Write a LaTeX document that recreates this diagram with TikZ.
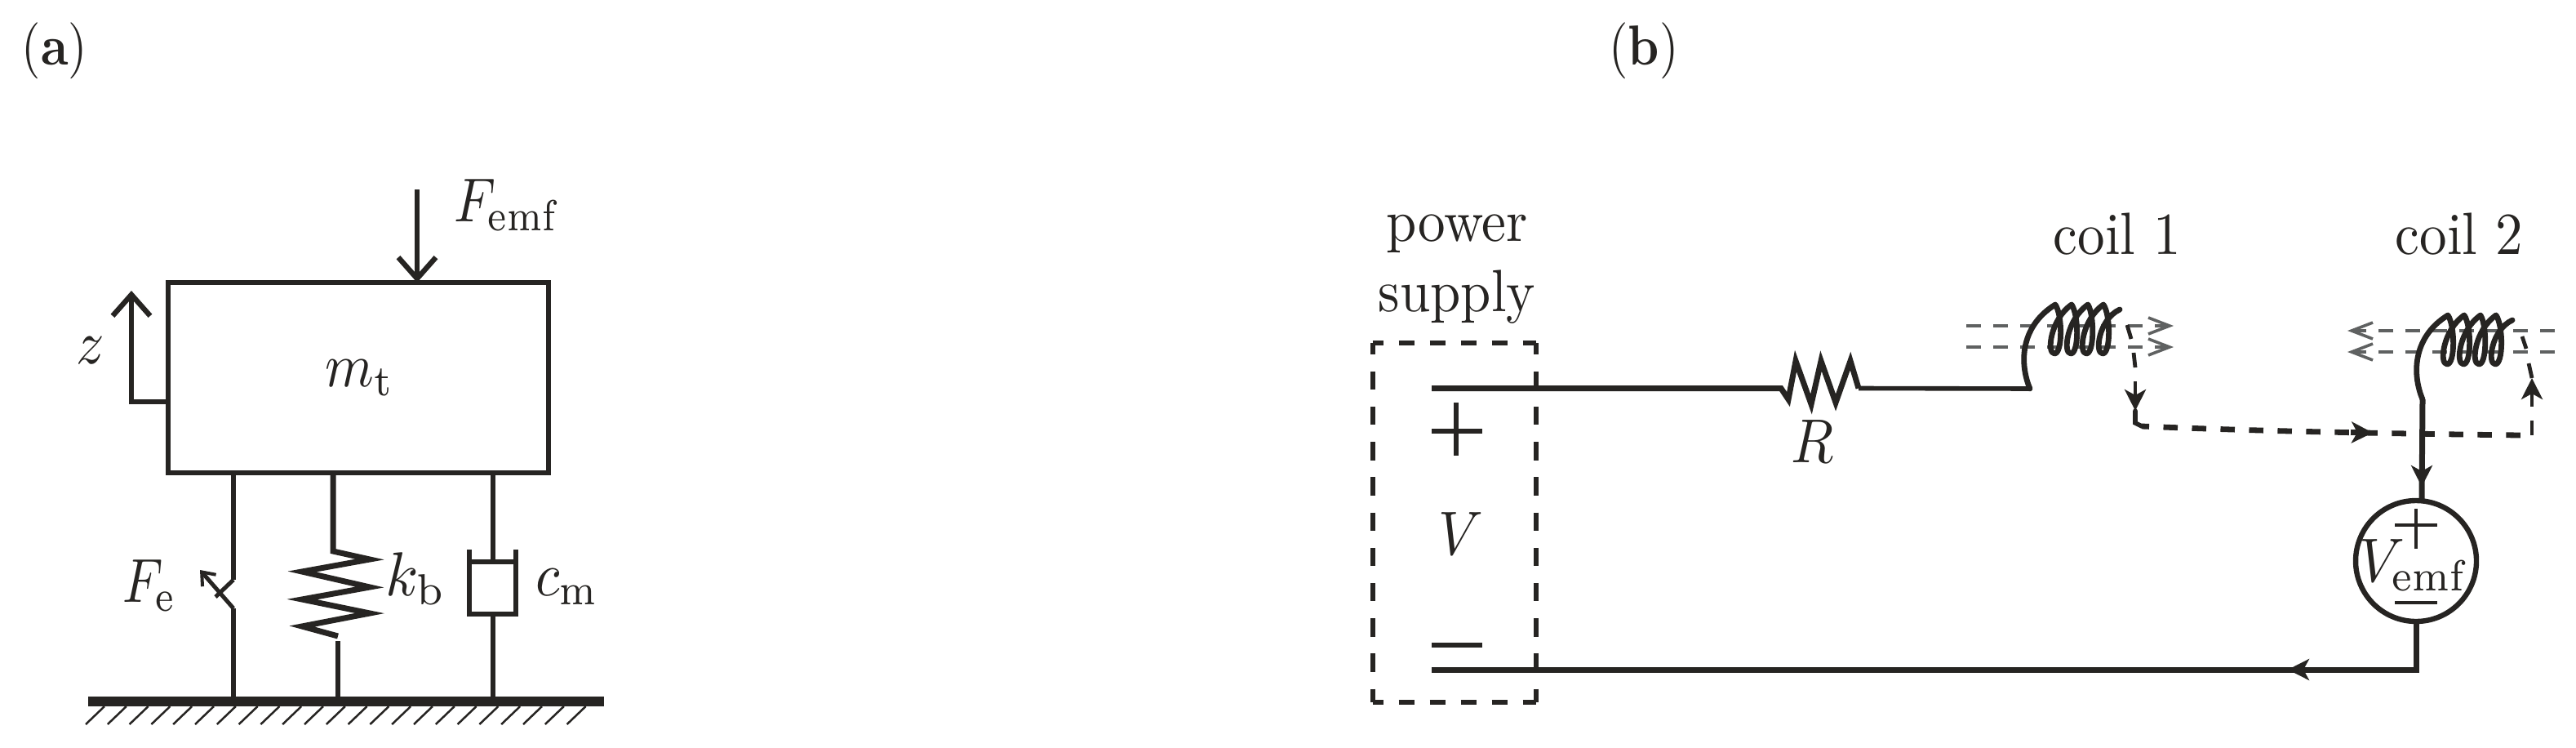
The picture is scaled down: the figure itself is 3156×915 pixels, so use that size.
\documentclass[tikz,border=0pt]{standalone}
\usetikzlibrary{arrows.meta}
\definecolor{ink}{HTML}{262422}
\definecolor{fluxgrey}{HTML}{5F6161}
\tikzset{
  lbl/.style={inner sep=0pt,outer sep=0pt,xscale=3.35,yscale=3.65,text=ink},
  mathlbl/.style={inner sep=0pt,outer sep=0pt,xscale=3.4,yscale=3.8,text=ink},
  panel/.style={inner sep=0pt,outer sep=0pt,xscale=3,yscale=3.45,text=ink,anchor=base},
  wire/.style={draw=ink,line width=3.5pt,line join=miter},
  after r/.style={draw=ink,line width=2.8pt,line join=miter},
  coil wire/.style={draw=ink,line width=3.4pt,line join=round,line cap=round},
  sym/.style={draw=ink,line width=3.2pt},
  thin sym/.style={draw=ink,line width=2pt},
  barb/.style={-{Straight Barb[length=13pt,width=23pt,line width=3.2pt]}},
  small barb/.style={-{Straight Barb[length=7pt,width=11pt,line width=2pt]}},
  solid head/.style={-{Stealth[length=13pt,width=13pt,inset=3.5pt]}},
  flux/.style={draw=fluxgrey,line width=1.8pt,dash pattern=on 9pt off 7.5pt,
     -{Straight Barb[length=13pt,width=10pt,line width=1.8pt,fluxgrey]}},
  induced/.style={draw=ink,line width=2.4pt},
  induced run/.style={draw=ink,line width=3.4pt,dash pattern=on 8.75pt off 8.75pt,dash phase=4.25pt},
  coilshape/.pic={
    \coordinate (-in) at (0,0);
    \draw[coil wire] (0,0) .. controls (-12,-28) and (-14,-75) .. (31,-103)
      \foreach \p in {31,51,70}{
        .. controls (\p+9,-90) and (\p+9,-43) .. (\p-1,-43)
        .. controls (\p-11,-43) and (\p-6,-85) .. (\p+20,-103)}
      .. controls (99,-90) and (99,-43) .. (89,-43)
      .. controls (79,-43) and (84,-85) .. (110,-97);
  },
  hatch/.style={draw=ink,line width=1.25pt},
}
\begin{document}
\begin{tikzpicture}[x=0.5pt,y=-0.5pt]
\useasboundingbox (0,0) rectangle (3156,915);

% panel labels
\node[panel] (la) at (67,80) {(\textbf{a})};
\node[panel] (lb) at (2014,80) {(\textbf{b})};

% ---------- panel (a)
\node[draw=ink,line width=3.2pt,minimum width=233pt,minimum height=116.5pt,inner sep=0pt,outer sep=0pt] (mass) at (439,462.5) {};
\node[mathlbl,anchor=base] (mt) at (441,473) {$m_{\mathrm{t}}$};

\coordinate (gndL) at (108,859);
\coordinate (gndR) at (740,859);
\draw[draw=ink,line width=6pt] (gndL) -- (gndR);
\foreach \i in {0,...,22}{
  \draw[hatch] ({105+26.8*\i},887) -- ({128+26.8*\i},865);
}

% applied force
\coordinate (fTop) at (511,232);
\draw[sym,barb] (fTop) -- (mass.north -| fTop);
\node[mathlbl,anchor=base west,xscale=0.96] (femf) at (556,271) {$F_{\mathrm{emf}}$};

% displacement
\coordinate (zCorner) at (161,492);
\coordinate (zTip) at (161,356);
\draw[sym,barb] (mass.west |- zCorner) -- (zCorner) -- (zTip);
\node[mathlbl,anchor=base] (zl) at (111,445) {$z$};

% electrostatic element
\coordinate (feGnd) at (286,859);
\coordinate (feA) at (286,710);
\coordinate (feB) at (264,731);
\coordinate (feC) at (286,745);
\coordinate (feT) at (245,698);
\draw[sym] (mass.south -| feGnd) -- (feA);
\draw[sym,line width=2.5pt] (feA) -- (feB);
\draw[sym,line width=2.5pt,small barb] (feC) -- (feT);
\draw[sym] (feC) -- (feGnd);
\node[mathlbl,anchor=base west,xscale=0.93] (fe) at (150,737) {$F_{\mathrm{e}}$};

% spring
\coordinate (spTop) at (408,675);
\coordinate (spBot) at (414,785);
\coordinate (spGnd) at (414,859);
\draw[sym,line width=3.5pt] (mass.south -| spTop) -- (spTop) -- (453,685) -- (370,700) -- (453,719) -- (370,734) -- (453,751) -- (370,767) -- (414,779);
\draw[sym] (spBot) -- (spGnd);
\node[mathlbl,anchor=base west,xscale=1.08] (kb) at (472,729) {$k_{\mathrm{b}}$};

% damper
\coordinate (dTop) at (604,688);
\coordinate (dBot) at (604,752);
\coordinate (dGnd) at (604,859);
\draw[sym] (mass.south -| dTop) -- (dTop);
\draw[sym] (575,673) -- (575,752) -- (632,752) -- (632,673);
\draw[sym] (575,688) -- (632,688);
\draw[sym] (dBot) -- (dGnd);
\node[mathlbl,anchor=base west] (cm) at (656,729) {$c_{\mathrm{m}}$};

% ---------- panel (b)
% supply box
\coordinate (bTL) at (1681.5,420);
\coordinate (bTR) at (1882,420);
\coordinate (bBL) at (1681.5,860);
\coordinate (bBR) at (1882,860);
\begin{scope}[draw=ink,line width=3pt]
\draw[dash pattern=on 9.5pt off 9.5pt,dash phase=3pt] (bTL) -- (bTR);
\draw[dash pattern=on 9.5pt off 9.5pt,dash phase=3pt] (bBL) -- (bBR);
\draw[dash pattern=on 11.2pt off 10.4pt,dash phase=4.2pt] (bTL) -- (bBL);
\draw[dash pattern=on 11.2pt off 10.4pt,dash phase=4.2pt] (bTR) -- (bBR);
\end{scope}

\node[lbl,anchor=base] (pw) at (1785,295) {power};
\node[lbl,anchor=base] (sp) at (1785,381) {supply};
\node[mathlbl,anchor=base] (vv) at (1790,679) {$V$};
\draw[sym] (1754,528) -- (1816,528);
\draw[sym] (1784,493) -- (1784,558);
\draw[sym] (1754,790) -- (1816,790);

% top wire and resistor
\coordinate (pPlus) at (1754,475.5);
\coordinate (rIn) at (2182,475.5);
\coordinate (rOut) at (2277,475.5);
\coordinate (c1In) at (2487,476);
\draw[wire] (pPlus) -- (rIn) -- (2191,489) -- (2200,442) -- (2219,495) -- (2231,442) -- (2249,493) -- (2267,442) -- (rOut);
\draw[after r] (rOut) -- (c1In);
\node[mathlbl,anchor=base] (rl) at (2221,566) {$R$};

% flux lines
\coordinate (f1a) at (2409,399); \coordinate (f1b) at (2663,399);
\coordinate (f2a) at (2409,425); \coordinate (f2b) at (2663,425);
\coordinate (f3a) at (3130,405); \coordinate (f3b) at (2876,405);
\coordinate (f4a) at (3130,431); \coordinate (f4b) at (2876,431);
\draw[flux] (f1a) -- (f1b);
\draw[flux] (f2a) -- (f2b);
\draw[flux] (f3a) -- (f3b);
\draw[flux] (f4a) -- (f4b);

% coils
\pic (coilA) at (c1In) {coilshape};
\coordinate (c2In) at (2968,489);
\pic (coilB) at (c2In) {coilshape};
\node[lbl,anchor=base] (c1l) at (2594,311) {coil 1};
\node[lbl,anchor=base] (c2l) at (3013,311) {coil 2};

% induced voltage source
\node[circle,draw=ink,line width=3.2pt,minimum size=74pt,inner sep=0pt,outer sep=0pt,fill=white] (vs) at (2960,687) {};
\node[mathlbl,anchor=base,xscale=1.02] (vl) at (2958,712) {$V_{\mathrm{emf}}$};
\draw[thin sym] (2934,643) -- (2986,643);
\draw[thin sym] (2960,623) -- (2960,672);
\draw[thin sym] (2934,738) -- (2986,738);

% wire to source
\coordinate (vTop) at (2967,612);
\draw[wire] (c2In) -- (vTop);
\coordinate (ahA) at (2967,570);
\coordinate (ahB) at (2967,596);
\draw[wire,solid head] (ahA) -- (ahB);

% return wire
\coordinate (retC) at (2960,820);
\coordinate (pMinus) at (1754,820);
\coordinate (rhA) at (2830,820);
\coordinate (rhB) at (2803,820);
\draw[wire] (vs.south) -- (retC) -- (pMinus);
\draw[wire,solid head] (rhA) -- (rhB);

% induced path
\draw[induced,line cap=butt] (2606,398) -- (2611,415);
\draw[induced] (2614,432) -- (2616,450);
\coordinate (iA) at (2616,467);
\coordinate (iB) at (2616,503);
\coordinate (iC) at (2616,518);
\coordinate (iD) at (2624,522);
\coordinate (iE) at (3088,533);
\coordinate (iF) at (3102,533);
\coordinate (iG) at (3102,515);
\coordinate (iH) at (3102,498);
\coordinate (iI) at (3102,463);
\coordinate (iJ) at (3098,445);
\draw[induced,solid head] (iA) -- (iB);
\draw[induced,line width=2.8pt,line cap=round] (iB) -- (iC) -- (iD);
\draw[induced run] (iD) .. controls (2720,526) and (2846,530) .. (iE);
\draw[draw=ink,solid head,line width=3.4pt] (2880,529.5) -- (2907,530);
\draw[induced] (iF) -- (iG);
\draw[induced,solid head] (iH) -- (iI);
\draw[induced] (iI) -- (iJ);
\draw[induced] (3095,427) -- (3090,412);
\end{tikzpicture}
\end{document}
